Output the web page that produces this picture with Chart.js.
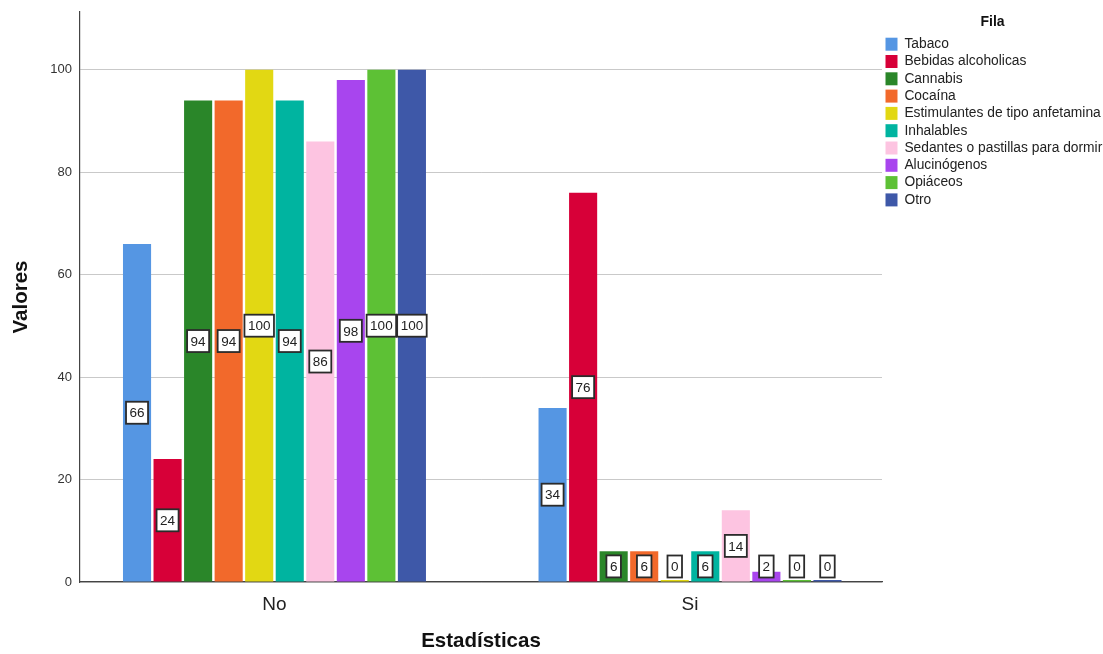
<!DOCTYPE html>
<html>
<head>
<meta charset="utf-8">
<script src="https://cdn.jsdelivr.net/npm/chart.js@4"></script>
<style>
html,body{margin:0;padding:0;background:#fff;}
#wrap{width:1103px;height:654px;position:relative;}
</style>
</head>
<body>
<div id="wrap"><canvas id="c" width="1103" height="654"></canvas></div>
<script>
const categories = ['No', 'Si'];
const seriesNames = ['Tabaco','Bebidas alcoholicas','Cannabis','Cocaína','Estimulantes de tipo anfetamina','Inhalables','Sedantes o pastillas para dormir','Alucinógenos','Opiáceos','Otro'];
const valuesNo = [66, 24, 94, 94, 100, 94, 86, 98, 100, 100];
const valuesSi = [34, 76, 6, 6, 0, 6, 14, 2, 0, 0];
const yTicks = [0, 20, 40, 60, 80, 100];
const colors = ['#5596E3','#D70038','#2A8629','#F2692B','#E2D813','#00B4A0','#FDC4E1','#A845EE','#5DC135','#3E58A8'];

const datasets = seriesNames.map((name, i) => ({
  label: name,
  data: [{x: 0, y: valuesNo[i]}, {x: 1, y: valuesSi[i]}],
  backgroundColor: colors[i],
  borderWidth: 0,
  minBarLength: 2,
  barPercentage: 0.92,
  categoryPercentage: 0.735
}));

const labelPlugin = {
  id: 'boxLabels',
  afterDatasetsDraw(chart) {
    const ctx = chart.ctx;
    ctx.save();
    ctx.font = '13.5px Arial, "Liberation Sans", sans-serif';
    ctx.textAlign = 'center';
    ctx.textBaseline = 'middle';
    chart.data.datasets.forEach((ds, di) => {
      const meta = chart.getDatasetMeta(di);
      meta.data.forEach((el, idx) => {
        const v = ds.data[idx].y;
        const txt = String(v);
        const w = ctx.measureText(txt).width + 7;
        const h = 22;
        let cy = (el.y + el.base) / 2;
        cy = Math.min(cy, el.base - 15);
        const cx = el.x;
        ctx.fillStyle = '#ffffff';
        ctx.fillRect(cx - w/2, cy - h/2, w, h);
        ctx.strokeStyle = '#2b2b2b';
        ctx.lineWidth = 1.8;
        ctx.strokeRect(cx - w/2, cy - h/2, w, h);
        ctx.fillStyle = '#222';
        ctx.fillText(txt, cx, cy + 1);
      });
    });
    ctx.restore();
  }
};

new Chart(document.getElementById('c'), {
  type: 'bar',
  data: { datasets },
  plugins: [labelPlugin],
  options: {
    responsive: false,
    animation: false,
    layout: { padding: { top: 12, right: 0, left: 0, bottom: 0 } },
    plugins: {
      tooltip: { enabled: false },
      legend: {
        position: 'right',
        align: 'start',
        maxWidth: 221,
        title: { display: true, text: 'Fila', color: '#111', font: { size: 14, weight: 'bold', family: 'Arial, "Liberation Sans", sans-serif' }, padding: { top: 3, bottom: 2 } },
        labels: {
          boxWidth: 12, boxHeight: 13, padding: 3.5,
          color: '#222',
          font: { size: 13.8, family: 'Arial, "Liberation Sans", sans-serif' }
        }
      }
    },
    scales: {
      x: {
        type: 'linear',
        min: -0.468, max: 1.462,
        offset: false,
        afterBuildTicks: (axis) => { axis.ticks = categories.map((c, i) => ({ value: i })); },
        afterFit: (axis) => { axis.height = 72; axis.paddingLeft = 0; axis.paddingRight = 0; },
        grid: { display: false, drawTicks: false },
        border: { display: true, color: '#444', width: 1.2 },
        ticks: {
          color: '#222', padding: 11,
          font: { size: 19, family: 'Arial, "Liberation Sans", sans-serif' },
          callback: (v) => categories[v] !== undefined ? categories[v] : ''
        },
        title: { display: true, text: 'Estadísticas', color: '#111', font: { size: 20.5, weight: 'bold', family: 'Arial, "Liberation Sans", sans-serif' }, padding: { top: 4, bottom: 0 } }
      },
      y: {
        min: 0, max: 111.3,
        afterBuildTicks: (axis) => { axis.ticks = yTicks.map(v => ({ value: v })); },
        afterFit: (axis) => { axis.width = 80; axis.paddingTop = 0; axis.paddingBottom = 0; },
        grid: { color: '#c9c9c9', lineWidth: 1, drawTicks: false },
        border: { display: true, color: '#444', width: 1.2 },
        ticks: { color: '#333', padding: 8, font: { size: 13, family: 'Arial, "Liberation Sans", sans-serif' } },
        title: { display: true, text: 'Valores', color: '#111', font: { size: 20.5, weight: 'bold', family: 'Arial, "Liberation Sans", sans-serif' }, padding: { top: 9, bottom: 0 } }
      }
    }
  }
});
</script>
</body>
</html>
